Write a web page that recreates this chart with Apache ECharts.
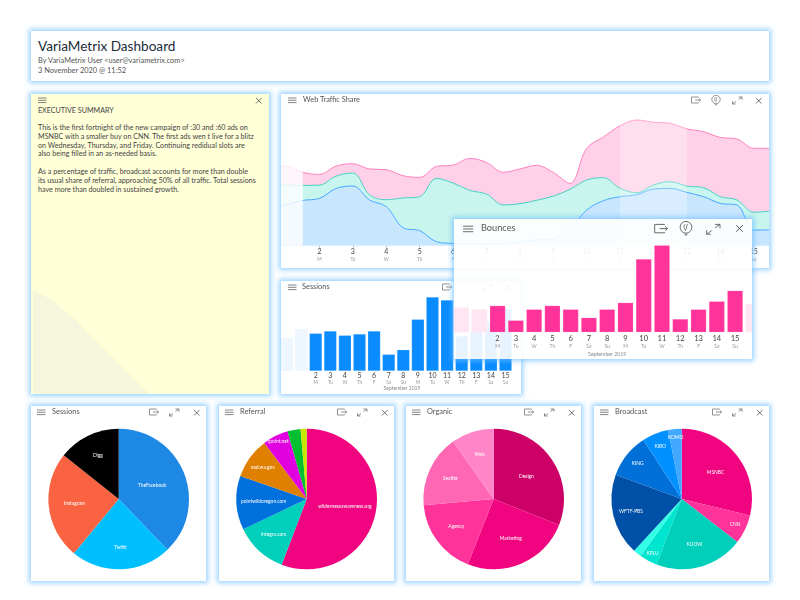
<!DOCTYPE html>
<html>
<head>
<meta charset="utf-8">
<title>VariaMetrix Dashboard</title>
<script src="https://cdn.jsdelivr.net/npm/echarts@6/dist/echarts.min.js"></script>
<style>
    html, body { margin: 0; padding: 0; background: #fff; }
    body { width: 800px; height: 600px; position: relative; overflow: hidden; font-family: Lato, sans-serif; color: #333; }
    .panel { position: absolute; background: #fff; box-shadow: 0 0 5px 2px rgba(110, 190, 255, .7); overflow: hidden; }
    .chart { position: absolute; left: 0; top: 0; }
    .title { position: absolute; font-size: 7.4px; color: #555; line-height: 12px; white-space: nowrap; }
    .ico { position: absolute; }
    .ico svg { display: block; }
    #head { left: 31px; top: 31px; width: 738px; height: 50px; }
    #head h1 { position: absolute; left: 7px; top: 6px; margin: 0; font-size: 13.6px; line-height: 19px; font-weight: 400; color: #222b3a; white-space: nowrap; }
    #head div { position: absolute; left: 7px; font-size: 7.4px; line-height: 10px; color: #555; white-space: nowrap; }
    #summary { left: 31px; top: 94px; width: 238px; height: 300px; background: #ffffd8; }
    #summary .copy { position: absolute; left: 7px; top: 12.5px; font-size: 7.15px; line-height: 8.8px; color: #444; white-space: nowrap; }
    #summary .fade { position: absolute; left: 2px; top: 196px; width: 116px; height: 104px; background: #f6f6dc; clip-path: polygon(0 0, 15% 9%, 37% 29%, 58% 53%, 100% 100%, 0 100%); }
    #traffic { left: 281px; top: 94px; width: 488px; height: 174px; }
    #sessionsBar { left: 281px; top: 281px; width: 240px; height: 113px; }
    #bounces { left: 454px; top: 219px; width: 298px; height: 140px; background: rgba(255, 255, 255, .9); }
    .pie { top: 406px; width: 175px; height: 175px; }
</style>
</head>
<body>
<div class="panel" id="head">
    <h1>VariaMetrix Dashboard</h1>
    <div style="top:24.5px">By VariaMetrix User &lt;user@variametrix.com&gt;</div>
    <div style="top:34.5px">3 November 2020 @ 11:52</div>
</div>
<div class="panel" id="summary">
    <div class="fade"></div>
    <div class="copy">EXECUTIVE SUMMARY<br><br>This is the first fortnight of the new campaign of :30 and :60 ads on<br>MSNBC with a smaller buy on CNN. The first ads wen t live for a blitz<br>on Wednesday, Thursday, and Friday. Continuing redidual slots are<br>also being filled in an as-needed basis.<br><br>As a percentage of traffic, broadcast accounts for more than double<br>its usual share of referral, approaching 50% of all traffic. Total sessions<br>have more than doubled in sustained growth.</div>
</div>
<div class="panel" id="traffic"><div class="chart" id="trafficChart" style="left:-40px;width:532px;height:174px"></div></div>
<div class="panel" id="sessionsBar"><div class="chart" id="sessionsChart" style="left:-10px;width:250px;height:113px"></div></div>
<div class="panel" id="bounces"><div class="chart" id="bouncesChart" style="left:-10px;width:325px;height:140px"></div></div>
<div class="panel pie" id="pie0" style="left:31px"><div class="chart" id="pieChart0" style="width:175px;height:175px"></div></div>
<div class="panel pie" id="pie1" style="left:219px"><div class="chart" id="pieChart1" style="width:175px;height:175px"></div></div>
<div class="panel pie" id="pie2" style="left:406px"><div class="chart" id="pieChart2" style="width:175px;height:175px"></div></div>
<div class="panel pie" id="pie3" style="left:594px"><div class="chart" id="pieChart3" style="width:175px;height:175px"></div></div>

<script>
    // web traffic share, sampled every half day
    var trafficDays = ['0.5', '1', '1.5', '2', '2.5', '3', '3.5', '4', '4.5', '5', '5.5', '6', '6.5', '7', '7.5', '8', '8.5', '9', '9.5', '10', '10.5', '11', '11.5', '12', '12.5', '13', '13.5', '14', '14.5', '15', '15.5'];
    var trafficBroadcast = [38, 40.7, 45.3, 47.3, 57.3, 59.7, 45.7, 39, 18, 15, 4, 2.3, 2, 2.3, 2, 4, 5.7, 7.3, 17.3, 35.7, 45, 49, 51, 56.7, 57.3, 53.3, 49, 42.3, 40.7, 15.7, 15.7];
    var trafficReferral = [22, 20, 15, 13.3, 12.3, 13, 5, 7, 29.7, 34, 63.3, 60.3, 53.3, 49.3, 38.7, 38, 39.7, 42.3, 39, 30, 23, 8.3, 2, 4, 6.7, 6.3, 9, 6.7, 5, 17.7, 19];
    var trafficOrganic = [19, 19, 13, 10.7, 10, 9.3, 26, 30, 22.3, 19.3, 12, 18, 32, 31.7, 32.7, 34.7, 35, 23.7, 6, 31.7, 40.7, 62.7, 72.7, 62.7, 58.3, 57.3, 56, 59.3, 61, 64, 62.7];

    // day numbers and weekdays under the axes, index is the day of the month
    var dayLabels = ['', '', '2', '3', '4', '5', '6', '7', '8', '9', '10', '11', '12', '13', '14', '15', ''];
    var weekLabels = ['', '', 'M', 'Tu', 'W', 'Th', 'F', 'Sa', 'Su', 'M', 'Tu', 'W', 'Th', 'F', 'Sa', 'Su', ''];

    var sessionsValues = [33, 42, 37.7, 40, 35.7, 37, 40, 16.7, 21.3, 51.7, 74, 71, 35, 40, 50, 62];
    var bouncesValues = [24.7, 23, 26.7, 12, 23, 26.7, 23, 14.7, 23, 29.7, 73.3, 87, 13.3, 23, 31, 41.7, 28];

    var pieSessionsNames = ['TheFacebook', 'Twittr', 'Instagram', 'Digg'];
    var pieSessionsValues = [37.8, 23.2, 24.7, 14.3];
    var pieReferralNames = ['wildernessawareness.org', 'integra.com', 'pointwildoregon.com', 'oxd.wa.gov', 'rpoint.net', '', ''];
    var pieReferralValues = [55.8, 12.1, 12.4, 9.4, 5.9, 3, 1.4];
    var pieOrganicNames = ['Design', 'Marketing', 'Agency', 'Seattle', 'Web'];
    var pieOrganicValues = [31, 25, 17.6, 16.6, 9.8];
    var pieBroadcastNames = ['MSNBC', 'CNN', 'KUOW', 'KPLU', '', 'WFTF-PBS', 'KING', 'KIRO', 'KOMO'];
    var pieBroadcastValues = [28.8, 6.7, 20.4, 4.1, 1.9, 18.8, 10.2, 6.1, 3.1];

    // how far out each pie label sits, as a share of the radius
    var labelReachSessions = [0.47, 0.64, 0.59, 0.64];
    var labelReachReferral = [0.51, 0.65, 0.57, 0.73, 0.87, 0.5, 0.5];
    var labelReachOrganic = [0.52, 0.57, 0.62, 0.64, 0.62];
    var labelReachBroadcast = [0.57, 0.8, 0.63, 0.83, 0.5, 0.7, 0.76, 0.77, 0.84];

    var ICONS = {
        menu: '<path d="M0 1h8.5M0 3.3h8.5M0 5.6h8.5" stroke="#666" fill="none" stroke-width=".8"/>',
        exp: '<path d="M7.5 1.5V1H.5v6h7V6.5M4 4h5.5M8 2.5 9.7 4 8 5.5" stroke="#666" fill="none" stroke-width=".7"/>',
        talk: '<circle cx="5" cy="4.5" r="4.2" stroke="#666" fill="none" stroke-width=".7"/><path d="M4.5 2.2C3.3 3 3.3 5 4.6 6.8M6.2 2C5.2 3.6 5.8 5 4.6 6.8M4.2 9.4h1.6L5 10.4z" stroke="#666" fill="none" stroke-width=".6"/>',
        full: '<path d="M6.5 1H10V3.8M10 1 6.5 3.6M3.5 8H.5V5.2M.5 8 4 5.4" stroke="#666" fill="none" stroke-width=".7"/>',
        close: '<path d="M1 1 6.5 6.5M6.5 1 1 6.5" stroke="#555" fill="none" stroke-width=".8"/>'
    };

    function addIcon (panel, name, x, y, scale) {
        var el = document.createElement('div');
        var s = scale || 1;
        el.className = 'ico';
        el.style.left = x + 'px';
        el.style.top = y + 'px';
        el.innerHTML = '<svg width="' + 11 * s + '" height="' + 11 * s + '" viewBox="0 0 11 11">' + ICONS[name] + '</svg>';
        panel.appendChild(el);
    }

    function addTitle (panelId, text, x, y, size) {
        var panel = document.getElementById(panelId);
        var el = document.createElement('div');
        el.className = 'title';
        el.style.left = x + 'px';
        el.style.top = y + 'px';
        if (size) {
            el.style.fontSize = size + 'px';
        }
        el.textContent = text;
        panel.appendChild(el);
        return panel;
    }

    var summaryPanel = document.getElementById('summary');
    addIcon(summaryPanel, 'menu', 7, 3);
    addIcon(summaryPanel, 'close', 224, 2.5);

    var trafficPanel = addTitle('traffic', 'Web Traffic Share', 22, 0);
    addIcon(trafficPanel, 'menu', 7, 3);
    addIcon(trafficPanel, 'exp', 410, 2);
    addIcon(trafficPanel, 'talk', 430, 1);
    addIcon(trafficPanel, 'full', 451, 2);
    addIcon(trafficPanel, 'close', 474, 2.5);

    var sessionsPanel = addTitle('sessionsBar', 'Sessions', 21, 0);
    addIcon(sessionsPanel, 'menu', 7, 3);
    addIcon(sessionsPanel, 'exp', 161, 2);
    addIcon(sessionsPanel, 'full', 201, 2);
    addIcon(sessionsPanel, 'close', 224, 2.5);

    var bouncesPanel = addTitle('bounces', 'Bounces', 27, 3, 9.2);
    addIcon(bouncesPanel, 'menu', 9, 6, 1.2);
    addIcon(bouncesPanel, 'exp', 200, 3.5, 1.4);
    addIcon(bouncesPanel, 'talk', 225, 2, 1.4);
    addIcon(bouncesPanel, 'full', 252, 3.5, 1.4);
    addIcon(bouncesPanel, 'close', 281, 5, 1.2);

    ['Sessions', 'Referral', 'Organic', 'Broadcast'].forEach(function (text, i) {
        var panel = addTitle('pie' + i, text, 21, 0);
        addIcon(panel, 'menu', 6, 3);
        addIcon(panel, 'exp', 118, 2);
        addIcon(panel, 'full', 138, 2);
        addIcon(panel, 'close', 162, 2.5);
    });

    function dayRich (dayFont, weekFont, dayLine, weekLine) {
        return {
            d: {fontFamily: 'Lato', fontSize: dayFont, color: '#444', lineHeight: dayLine},
            w: {fontFamily: 'Lato', fontSize: weekFont, color: '#999', lineHeight: weekLine}
        };
    }

    function dayText (i) {
        return dayLabels[i] ? '{d|' + dayLabels[i] + '}\n{w|' + weekLabels[i] + '}' : '';
    }

    function isLabelledDay (name) {
        var n = parseFloat(name);
        return n === Math.floor(n) && dayLabels[n] !== '';
    }

    function trafficSeries (values, lineColor, fillColor) {
        return {
            type: 'line',
            stack: 'share',
            smooth: 0.35,
            symbol: 'none',
            data: values,
            lineStyle: {color: lineColor, width: 1},
            areaStyle: {color: fillColor, opacity: 1}
        };
    }

    var topSeries = trafficSeries(trafficOrganic, '#ff80c0', '#ffd1e8');
    topSeries.markArea = {
        silent: true,
        z: 10,
        data: [
            [{xAxis: '0.5', itemStyle: {color: 'rgba(255,255,255,.8)'}}, {xAxis: '1.5'}],
            [{xAxis: '11', itemStyle: {color: 'rgba(255,255,255,.28)'}}, {xAxis: '13'}]
        ]
    };

    echarts.init(document.getElementById('trafficChart')).setOption({
        animation: false,
        grid: {left: 28.4, top: 1.7, width: 501, height: 150, outerBoundsMode: 'none'},
        xAxis: {
            type: 'category',
            data: trafficDays,
            boundaryGap: false,
            axisLine: {show: false},
            axisTick: {
                alignWithLabel: true,
                length: 2,
                lineStyle: {color: '#bbb'},
                interval: function (i, name) { return isLabelledDay(name); }
            },
            axisLabel: {
                margin: 3,
                rich: dayRich(7, 4.8, 7, 6.5),
                interval: function (i, name) { return isLabelledDay(name); },
                formatter: function (name) { return dayText(parseFloat(name)); }
            }
        },
        yAxis: {type: 'value', min: 0, max: 150, show: false},
        series: [
            trafficSeries(trafficBroadcast, '#45a8ff', '#c9e6ff'),
            trafficSeries(trafficReferral, '#45d2c3', '#c8f5ee'),
            topSeries
        ]
    });

    function barOption (values, color, paleColor, gridLeft, bandWidth, gridTop, gridHeight, barWidth, rich, margin, monthGap, monthFont, monthPadding) {
        var cats = values.map(function (v, i) { return i; });
        return {
            animation: false,
            grid: {left: gridLeft, top: gridTop, width: bandWidth * cats.length, height: gridHeight, outerBoundsMode: 'none'},
            xAxis: {
                type: 'category',
                data: cats,
                name: 'September 2019',
                nameLocation: 'middle',
                nameGap: monthGap,
                nameMoveOverlap: false,
                nameTextStyle: {fontFamily: 'Lato', fontSize: monthFont, color: '#888', padding: monthPadding},
                axisLine: {show: false},
                axisTick: {
                    alignWithLabel: true,
                    length: 2,
                    lineStyle: {color: '#bbb'},
                    interval: function (i) { return dayLabels[i] !== ''; }
                },
                axisLabel: {interval: 0, margin: margin, rich: rich, formatter: function (v) { return dayText(+v); }}
            },
            yAxis: {type: 'value', min: 0, max: gridHeight, show: false},
            series: [{
                type: 'bar',
                barWidth: barWidth,
                data: values.map(function (v, i) {
                    return dayLabels[i] ? v : {value: v, itemStyle: {color: paleColor, borderWidth: 0}};
                }),
                itemStyle: {color: color, borderColor: 'rgba(255,255,255,.35)', borderWidth: 0.5}
            }]
        };
    }

    echarts.init(document.getElementById('sessionsChart')).setOption(
        barOption(sessionsValues, '#0a8cff', '#eef6ff', 8.2, 14.6, 0, 90, '87%', dayRich(7, 4.8, 7, 6.2), 1.5, 15, 5, [0, 0, 0, 12])
    );
    echarts.init(document.getElementById('bouncesChart')).setOption(
        barOption(bouncesValues, '#ff3399', '#ffe6f2', 7.9, 18.27, 3.3, 110, '86%', dayRich(7.6, 5, 8.5, 8), 2, 19.5, 5.2, [0, 0, 0, 0])
    );

    function drawPie (id, names, values, colors, reach) {
        var total = values.reduce(function (a, b) { return a + b; }, 0);
        var radius = 70.3;
        var run = 0;
        var shifts = values.map(function (v, i) {
            var mid = (run + v / 2) / total * 2 * Math.PI;
            var extra = (reach[i] - 0.5) * radius;
            run += v;
            return {dx: extra * Math.sin(mid), dy: -extra * Math.cos(mid)};
        });
        echarts.init(document.getElementById(id)).setOption({
            animation: false,
            series: [{
                type: 'pie',
                center: [87.7, 93],
                radius: [0, radius],
                startAngle: 90,
                silent: true,
                avoidLabelOverlap: false,
                data: values.map(function (v, i) {
                    return {name: names[i], value: v, itemStyle: {color: colors[i]}};
                }),
                label: {position: 'inside', fontFamily: 'Lato', fontSize: 4.9, color: '#fff', formatter: '{b}'},
                labelLine: {show: false},
                labelLayout: function (params) {
                    return shifts[params.dataIndex];
                }
            }]
        });
    }

    drawPie('pieChart0', pieSessionsNames, pieSessionsValues, ['#1e88e5', '#00bfff', '#f96342', '#000000'], labelReachSessions);
    drawPie('pieChart1', pieReferralNames, pieReferralValues, ['#f0047f', '#00cfbb', '#0070dd', '#e08000', '#e000e0', '#00c030', '#c8e800'], labelReachReferral);
    drawPie('pieChart2', pieOrganicNames, pieOrganicValues, ['#cc0066', '#f0047f', '#ff3399', '#ff66b3', '#ff85c8'], labelReachOrganic);
    drawPie('pieChart3', pieBroadcastNames, pieBroadcastValues, ['#f0047f', '#ff3399', '#00cfbb', '#00e5d0', '#33ffe6', '#0050a8', '#0070d8', '#0090ff', '#40a8ff'], labelReachBroadcast);
</script>
</body>
</html>
